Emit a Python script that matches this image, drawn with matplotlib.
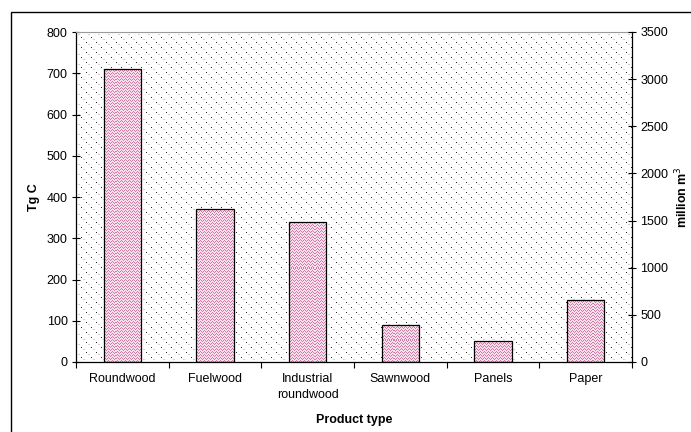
import numpy as np
import matplotlib as mpl
import matplotlib.pyplot as plt
from matplotlib.patches import Rectangle

mpl.rcParams['font.family'] = ['Liberation Sans', 'DejaVu Sans']

categories = ['Roundwood', 'Fuelwood', 'Industrial\nroundwood', 'Sawnwood', 'Panels', 'Paper']
carbon_tgc = [710, 370, 340, 90, 50, 150]
left_ticks = [0, 100, 200, 300, 400, 500, 600, 700, 800]
right_ticks = [0, 500, 1000, 1500, 2000, 2500, 3000, 3500]

AX_W, AX_H = 556, 330   # plot area size in pixels


def dot_texture(w, h):
    # sparse black dots with grey dots in between, on white
    img = np.ones((h, w, 3))
    yy, xx = np.mgrid[0:h, 0:w]
    black = ((xx % 10 == 0) & (yy % 10 == 0)) | ((xx % 10 == 5) & (yy % 10 == 5))
    grey = ((xx % 10 == 2) & (yy % 10 == 2)) | ((xx % 10 == 7) & (yy % 10 == 7)) | \
           ((xx % 10 == 3) & (yy % 10 == 2)) | ((xx % 10 == 8) & (yy % 10 == 7))
    img[grey] = 0.82
    img[black] = 0.15
    return img


def zigzag_texture(w, h):
    # pink zigzag fill for the bars
    base = np.array([0.97, 0.88, 0.93])
    line = np.array([0.82, 0.48, 0.64])
    img = np.ones((h, w, 3)) * base
    yy, xx = np.mgrid[0:h, 0:w]
    zz = (yy + np.abs((xx % 4) - 2)) % 3 == 0
    img[zz] = line
    return img


def main():
    fig = plt.figure(figsize=(6.91, 4.32), dpi=100)
    # outer chart frame
    fig.patches.append(Rectangle((11/691, -0.05), 1.0, 1.05 - 12/432, transform=fig.transFigure,
                                 fill=False, edgecolor='black', linewidth=1.0, zorder=0))

    ax = fig.add_axes([76/691, 70/432, AX_W/691, AX_H/432])

    ax.imshow(dot_texture(AX_W, AX_H), extent=[0, 1, 0, 1], transform=ax.transAxes,
              interpolation='nearest', aspect='auto', zorder=0)

    x = np.arange(len(categories)) + 0.5
    bars = ax.bar(x, carbon_tgc, width=0.4, facecolor='none', edgecolor='black',
                  linewidth=0.9, zorder=3)
    zz = zigzag_texture(AX_W, AX_H)
    for b in bars:
        im = ax.imshow(zz, extent=[0, 1, 0, 1], transform=ax.transAxes,
                       interpolation='nearest', aspect='auto', zorder=2)
        im.set_clip_path(b)

    ax.set_xlim(0, 6)
    ax.set_ylim(0, 800)
    ax.set_xticks(np.arange(0, 7))
    ax.set_xticklabels([])
    ax.set_xticks(x, minor=True)
    ax.set_xticklabels(categories, minor=True, fontsize=9, linespacing=1.45)
    ax.tick_params(axis='x', which='minor', length=0, pad=8)
    ax.tick_params(axis='x', which='major', direction='out', length=4, width=0.8)
    ax.set_yticks(left_ticks)
    ax.tick_params(axis='y', direction='inout', length=6, width=0.8, labelsize=9, pad=3)

    for s in ['left', 'bottom']:
        ax.spines[s].set_linewidth(0.9)
    ax.spines['top'].set_color('#9a9a9a')
    ax.spines['right'].set_visible(False)

    ax.set_ylabel('Tg C', fontsize=9, fontweight='bold', labelpad=5)
    ax.set_xlabel('Product type', fontsize=9, fontweight='bold', labelpad=9)

    ax2 = ax.twinx()
    ax2.set_ylim(0, 3500)
    ax2.set_yticks(right_ticks)
    ax2.tick_params(axis='y', direction='inout', length=6, width=0.8, labelsize=9, pad=3)
    for s in ['left', 'top', 'bottom']:
        ax2.spines[s].set_visible(False)
    ax2.spines['right'].set_linewidth(0.9)
    ax2.set_ylabel('million m$^3$', fontsize=9, fontweight='bold', labelpad=4)

    plt.savefig('out.png', dpi=100)
    plt.close()


if __name__ == '__main__':
    main()
